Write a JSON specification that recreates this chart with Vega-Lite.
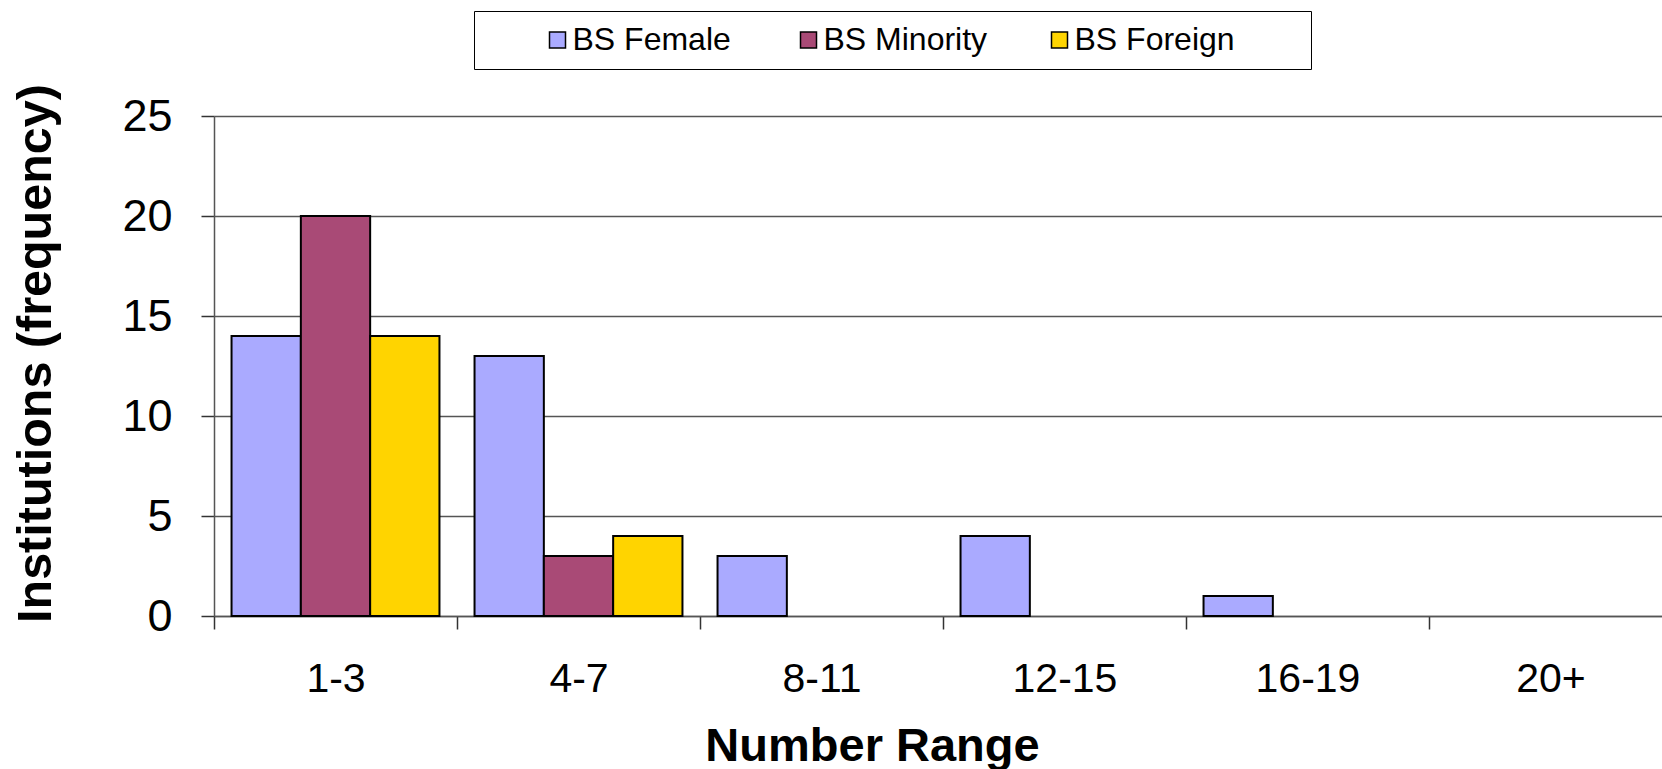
{
  "$schema": "https://vega.github.io/schema/vega-lite/v6.json",
  "width": 1448,
  "height": 500,
  "autosize": {"type": "none"},
  "padding": {"left": 214, "top": 116, "right": 0, "bottom": 153},
  "background": "white",
  "config": {
    "view": {"stroke": null},
    "font": "Liberation Sans",
    "legend": {"strokeColor": "black", "fillColor": "white"}
  },
  "data": {
    "values": [
      {"range": "1-3", "series": "BS Female", "count": 14},
      {"range": "1-3", "series": "BS Minority", "count": 20},
      {"range": "1-3", "series": "BS Foreign", "count": 14},
      {"range": "4-7", "series": "BS Female", "count": 13},
      {"range": "4-7", "series": "BS Minority", "count": 3},
      {"range": "4-7", "series": "BS Foreign", "count": 4},
      {"range": "8-11", "series": "BS Female", "count": 3},
      {"range": "12-15", "series": "BS Female", "count": 4},
      {"range": "16-19", "series": "BS Female", "count": 1}
    ]
  },
  "mark": {"type": "bar", "stroke": "black", "strokeWidth": 2},
  "encoding": {
    "x": {
      "field": "range",
      "type": "nominal",
      "sort": null,
      "scale": {
        "domain": ["1-3", "4-7", "8-11", "12-15", "16-19", "20+"],
        "range": [0, 1458],
        "paddingInner": 0,
        "paddingOuter": 0
      },
      "axis": {
        "title": "Number Range",
        "titleFont": "Liberation Sans",
        "titleFontSize": 47,
        "titleFontWeight": "bold",
        "titleColor": "black",
        "titleX": 658,
        "titleY": 107,
        "titleBaseline": "top",
        "labelAngle": 0,
        "labelFontSize": 41,
        "labelColor": "black",
        "labelPadding": 30,
        "tickBand": "extent",
        "tickSize": 13,
        "tickColor": "#333",
        "tickWidth": 1.5,
        "domainColor": "#555",
        "domainWidth": 1.5,
        "grid": false
      }
    },
    "xOffset": {
      "field": "series",
      "type": "nominal",
      "sort": ["BS Female", "BS Minority", "BS Foreign"],
      "scale": {"paddingInner": 0, "paddingOuter": 0.253}
    },
    "y": {
      "field": "count",
      "type": "quantitative",
      "scale": {"domain": [0, 25], "nice": false},
      "axis": {
        "title": "Institutions (frequency)",
        "titleFont": "Liberation Sans",
        "titleFontSize": 48.5,
        "titleFontWeight": "bold",
        "titleColor": "black",
        "titleX": -179,
        "titleY": 237,
        "titleAngle": -90,
        "titleAlign": "center",
        "titleBaseline": "middle",
        "values": [0, 5, 10, 15, 20, 25],
        "labelFontSize": 45,
        "labelColor": "black",
        "labelPadding": 29,
        "tickSize": 13,
        "tickColor": "#333",
        "tickWidth": 1.5,
        "domainColor": "#555",
        "domainWidth": 1.5,
        "grid": true,
        "gridColor": "#555",
        "gridWidth": 1.5
      }
    },
    "color": {
      "field": "series",
      "type": "nominal",
      "scale": {
        "domain": ["BS Female", "BS Minority", "BS Foreign"],
        "range": ["#AAAAFF", "#A94A76", "#FFD400"]
      },
      "legend": {
        "orient": "none",
        "direction": "horizontal",
        "legendX": 260,
        "legendY": -105,
        "title": " ",
        "titleOrient": "right",
        "titleFontSize": 32,
        "titlePadding": 63,
        "gridAlign": "all",
        "symbolType": "square",
        "symbolSize": 256,
        "symbolStrokeColor": "black",
        "symbolStrokeWidth": 1.5,
        "symbolOpacity": 1,
        "symbolOffset": 54.5,
        "labelOffset": -1,
        "labelFontSize": 32,
        "labelColor": "black",
        "labelLimit": 0,
        "columnPadding": 1,
        "padding": 13
      }
    }
  }
}
